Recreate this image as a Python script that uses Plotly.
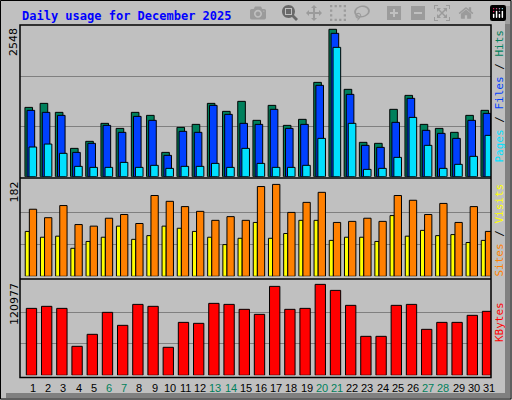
import plotly.graph_objects as go

days = list(range(1, 32))
hits = [1172, 1240, 1088, 479, 598, 902, 817, 1088, 1037, 411, 834, 885, 1240, 1105, 1274, 953,
        1206, 868, 970, 1595, 2492, 1477, 581, 564, 1139, 1375, 885, 817, 750, 1037, 1122]
files = [1122, 1088, 1037, 411, 564, 868, 750, 1020, 953, 361, 767, 750, 1206, 1054, 902, 885,
         1139, 817, 885, 1545, 2424, 1392, 530, 496, 919, 1325, 784, 733, 648, 953, 1071]
pages = [502, 552, 395, 175, 158, 158, 242, 158, 192, 141, 175, 175, 225, 158, 479, 225,
         158, 158, 192, 648, 2187, 902, 124, 141, 327, 1003, 530, 141, 209, 344, 699]
visits = [85, 74, 76, 53, 66, 74, 95, 70, 77, 95, 91, 85, 74, 60, 72, 102,
          72, 81, 106, 106, 68, 74, 74, 66, 115, 76, 87, 77, 79, 64, 68]
sites = [127, 111, 134, 98, 95, 110, 117, 100, 153, 142, 132, 123, 106, 113, 106, 170,
         174, 121, 140, 159, 102, 104, 110, 104, 153, 144, 117, 138, 102, 132, 85]
kbytes = [85600, 88200, 85600, 37060, 52400, 80500, 63900, 90700, 88200, 35800, 67700, 66450,
          92000, 90700, 84350, 77950, 113700, 84350, 85600, 116300, 108600, 89460, 49840, 49840,
          89460, 90700, 58790, 67700, 67700, 76680, 81790]
weekends = [6, 7, 13, 14, 20, 21, 27, 28]
max_hits, max_sites, max_kb = 2548, 182, 120977

W, H = 512, 400
def py(px):
    return 1 - px / H

fig = go.Figure()
line = dict(color="black", width=1)

def bar(y, color, offset, width, axis):
    fig.add_trace(go.Bar(x=days, y=y, marker=dict(color=color, line=line),
                         offset=offset, width=width, xaxis="x" + axis, yaxis="y" + axis))

bar(hits, "#00805C", -0.53, 0.5, "")
bar(files, "#0040FF", -0.39, 0.5, "")
bar(pages, "#00E0FF", -0.26, 0.5, "")
bar(visits, "#FFFF00", -0.51, 0.27, "2")
bar(sites, "#FF8000", -0.24, 0.48, "2")
bar(kbytes, "#FF0000", -0.44, 0.68, "3")

xdom = [20 / W, 491 / W]
xr = [0.145, 31.13]
ax = dict(range=xr, domain=xdom, showticklabels=False, showgrid=False, zeroline=False)
def yax(mx, top, bottom, anchor, top_px):
    rng = mx * (bottom - top) / (bottom - top_px)
    return dict(range=[0, rng], domain=[py(bottom), py(top)], anchor=anchor,
                tickvals=[mx / 3, 2 * mx / 3], showticklabels=False, gridcolor="#808080",
                gridwidth=1, zeroline=False)

fig.update_layout(
    width=W, height=H, margin=dict(l=0, r=0, t=0, b=0),
    paper_bgcolor="#C0C0C0", plot_bgcolor="#C0C0C0",
    barmode="overlay", showlegend=False,
    xaxis=dict(ax, anchor="y"), xaxis2=dict(ax, anchor="y2"), xaxis3=dict(ax, anchor="y3"),
    yaxis=yax(max_hits, 25, 176.7, "x", 26),
    yaxis2=yax(max_sites, 179.5, 276.3, "x2", 180.2),
    yaxis3=yax(max_kb, 280, 375.3, "x3", 280.7),
)

shapes = [
    dict(type="rect", xref="paper", yref="paper", x0=0.5 / W, x1=511 / W, y0=py(399), y1=py(0.5),
         line=dict(color="black", width=1)),
    dict(type="rect", xref="paper", yref="paper", x0=505 / W, x1=510 / W, y0=py(398), y1=py(6),
         fillcolor="#808080", line=dict(width=0)),
    dict(type="rect", xref="paper", yref="paper", x0=6 / W, x1=510 / W, y0=py(398), y1=py(393),
         fillcolor="#808080", line=dict(width=0)),
    dict(type="rect", xref="paper", yref="paper", x0=xdom[0], x1=xdom[1], y0=py(377.5), y1=py(25),
         line=dict(color="black", width=1.5)),
    dict(type="line", xref="paper", yref="paper", x0=xdom[0], x1=xdom[1], y0=py(178), y1=py(178),
         line=dict(color="black", width=1.5)),
    dict(type="line", xref="paper", yref="paper", x0=xdom[0], x1=xdom[1], y0=py(279), y1=py(279),
         line=dict(color="black", width=1.5)),
]
fig.update_layout(shapes=shapes)

ann = [dict(text="<b>Daily usage for December 2025</b>", x=20 / W, y=py(16), xref="paper", yref="paper",
            xanchor="left", yanchor="middle", showarrow=False,
            font=dict(family="DejaVu Sans Mono", size=12, color="#0000FF"))]
for lbl, ypx in [(str(max_hits), 26), (str(max_sites), 180), (str(max_kb), 281)]:
    ann.append(dict(text=lbl, x=14 / W, y=py(ypx), xref="paper", yref="paper", textangle=-90,
                    xanchor="center", yanchor="top", showarrow=False,
                    font=dict(family="DejaVu Sans", size=11, color="black")))
right = [
    ('<span style="color:#00E0FF">Pages</span> / <span style="color:#0040FF">Files</span> / '
     '<span style="color:#00805C">Hits</span>', 28),
    ('<span style="color:#FF8000">Sites</span> / <span style="color:#FFFF00">Visits</span>', 182),
    ('<span style="color:#FF0000">KBytes</span>', 300),
]
for txt, ypx in right:
    ann.append(dict(text=txt, x=499 / W, y=py(ypx), xref="paper", yref="paper", textangle=-90,
                    xanchor="center", yanchor="top", showarrow=False,
                    font=dict(family="DejaVu Sans Mono", size=11, color="black")))
for d in days:
    ann.append(dict(text=str(d), x=d, y=py(388), xref="x3", yref="paper", showarrow=False,
                    xanchor="center", yanchor="middle",
                    font=dict(family="Liberation Sans", size=11,
                              color="#00805C" if d in weekends else "black")))
fig.update_layout(annotations=ann)

fig.write_html("out.html", post_script="document.body.style.margin='0';")
